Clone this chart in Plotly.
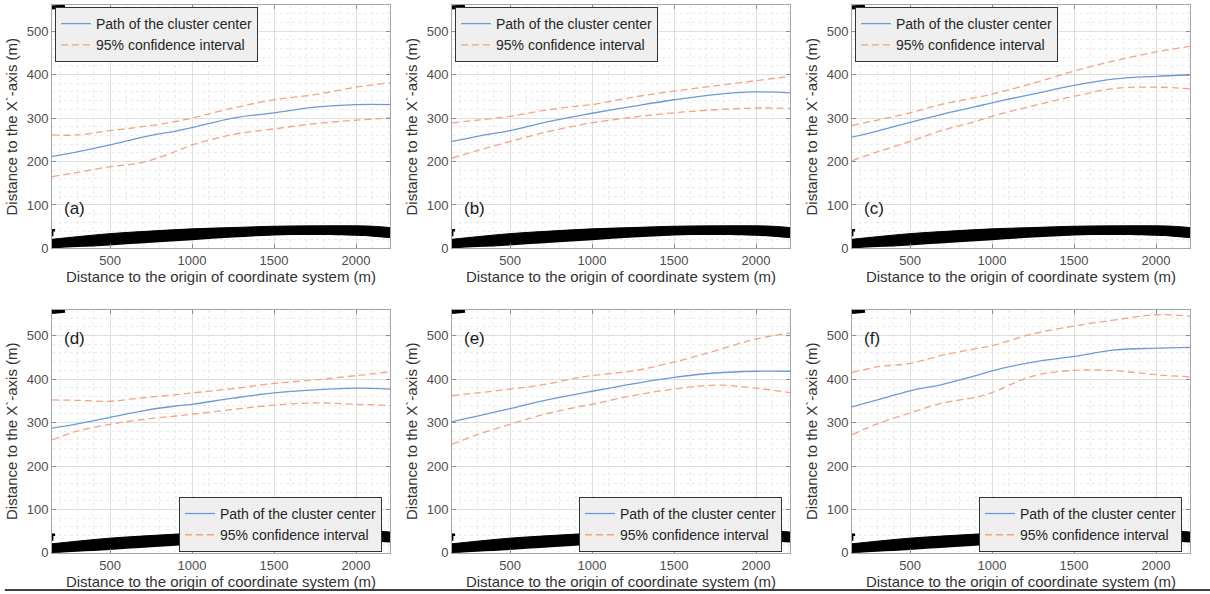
import plotly.graph_objects as go

# ---------------- data ----------------
X_PTS = [146, 300, 500, 700, 900, 1000, 1250, 1500, 1750, 2000, 2207]

A_CENTER = [211, 222, 238, 256, 270, 278, 300, 312, 325, 331, 331]
A_UPPER = [261, 261, 271, 280, 292, 300, 323, 342, 354, 371, 381]
A_LOWER = [165, 175, 188, 198, 223, 238, 262, 275, 287, 295, 300]

B_CENTER = [246, 258, 271, 289, 304, 311, 327, 342, 354, 360, 358]
B_UPPER = [289, 295, 304, 317, 327, 331, 348, 362, 374, 386, 396]
B_LOWER = [208, 225, 246, 266, 282, 289, 302, 312, 319, 323, 322]

C_CENTER = [256, 270, 290, 309, 326, 335, 355, 375, 390, 396, 399]
C_UPPER = [283, 295, 312, 332, 347, 355, 380, 408, 432, 452, 465]
C_LOWER = [202, 222, 246, 272, 292, 304, 328, 350, 368, 371, 367]

D_CENTER = [287, 297, 312, 327, 338, 342, 356, 368, 375, 379, 377]
D_UPPER = [352, 351, 349, 357, 364, 368, 378, 390, 398, 408, 417]
D_LOWER = [260, 280, 296, 307, 315, 319, 330, 340, 345, 342, 339]

E_CENTER = [302, 315, 332, 350, 365, 372, 389, 404, 414, 418, 418]
E_UPPER = [362, 368, 377, 387, 402, 408, 419, 439, 465, 492, 506]
E_LOWER = [250, 272, 296, 318, 335, 342, 362, 377, 386, 379, 369]

F_CENTER = [336, 352, 373, 388, 408, 419, 439, 452, 467, 471, 473]
F_UPPER = [415, 428, 436, 455, 470, 477, 504, 522, 536, 548, 545]
F_LOWER = [272, 297, 322, 345, 358, 369, 407, 420, 419, 410, 405]

# thick black boundary drawn in every panel
BAND_X = [146, 300, 500, 750, 1000, 1250, 1500, 1750, 2000, 2100, 2207]
BAND_LO = [0, 3, 7, 13, 19, 25, 30, 31, 29, 27, 24]
BAND_HI = [21, 27, 34, 40, 45, 48, 51, 52, 52, 51, 48]
TOPMARK_X = [146, 225]
TOPMARK_Y = [554, 557]
HOOK_X = [147, 147, 165]
HOOK_Y = [28, 42, 42]

PANEL_LABELS = ["(a)", "(b)", "(c)", "(d)", "(e)", "(f)"]
CENTERS = [A_CENTER, B_CENTER, C_CENTER, D_CENTER, E_CENTER, F_CENTER]
UPPERS = [A_UPPER, B_UPPER, C_UPPER, D_UPPER, E_UPPER, F_UPPER]
LOWERS = [A_LOWER, B_LOWER, C_LOWER, D_LOWER, E_LOWER, F_LOWER]

X_TICKS = [500, 1000, 1500, 2000]
Y_TICKS = [0, 100, 200, 300, 400, 500]
NAME_CENTER = "Path of the cluster center"
NAME_CI = "95% confidence interval"
X_TITLE = "Distance to the origin of coordinate system (m)"
Y_TITLE = "Distance to the X`-axis (m)"

# ---------------- layout geometry ----------------
W, H = 1210, 594          # reference pixel frame used for the paper fractions
FIG_H = 603               # rendered height (the capture area is slightly taller)
COL_PX = [(52, 390), (452, 790), (852, 1190)]
ROW_PX = [(5, 248), (309, 552)]

BLUE = "#6b9bd6"
ORANGE = "#f6a283"
FONT = "Liberation Sans, Arial, sans-serif"

fig = go.Figure()
layout = dict(
    width=W, height=FIG_H, margin=dict(l=0, r=0, t=0, b=0),
    paper_bgcolor="white", plot_bgcolor="white",
    font=dict(family=FONT, color="#333333"),
    annotations=[], shapes=[],
)

for i in range(6):
    r, c = divmod(i, 3)
    n = "" if i == 0 else str(i + 1)
    xa, ya = "x" + n, "y" + n
    leg = "legend" + n
    x0, x1 = COL_PX[c]
    y0, y1 = ROW_PX[r]

    # black band
    fig.add_trace(go.Scatter(x=BAND_X, y=BAND_LO, mode="lines", line=dict(color="black", width=0, shape="spline"),
                             showlegend=False, hoverinfo="skip", xaxis=xa, yaxis=ya))
    fig.add_trace(go.Scatter(x=BAND_X, y=BAND_HI, mode="lines", fill="tonexty", fillcolor="black",
                             line=dict(color="black", width=1, shape="spline"),
                             showlegend=False, hoverinfo="skip", xaxis=xa, yaxis=ya))
    fig.add_trace(go.Scatter(x=TOPMARK_X, y=TOPMARK_Y, mode="lines", line=dict(color="black", width=4),
                             showlegend=False, hoverinfo="skip", xaxis=xa, yaxis=ya))
    fig.add_trace(go.Scatter(x=HOOK_X, y=HOOK_Y, mode="lines", line=dict(color="black", width=2.5),
                             showlegend=False, hoverinfo="skip", xaxis=xa, yaxis=ya))

    # center path and confidence interval
    fig.add_trace(go.Scatter(x=X_PTS, y=CENTERS[i], mode="lines", name=NAME_CENTER,
                             line=dict(color=BLUE, width=1.3, shape="spline"),
                             legend=leg, xaxis=xa, yaxis=ya))
    fig.add_trace(go.Scatter(x=X_PTS, y=UPPERS[i], mode="lines", name=NAME_CI,
                             line=dict(color=ORANGE, width=1.3, dash="7px,4px", shape="spline"),
                             legend=leg, legendgroup="ci" + n, xaxis=xa, yaxis=ya))
    fig.add_trace(go.Scatter(x=X_PTS, y=LOWERS[i], mode="lines", name=NAME_CI, showlegend=False,
                             line=dict(color=ORANGE, width=1.3, dash="7px,4px", shape="spline"),
                             legend=leg, legendgroup="ci" + n, xaxis=xa, yaxis=ya))

    common = dict(
        showline=True, linecolor="#a6a6a6", linewidth=1, mirror="ticks",
        ticks="inside", ticklen=4, tickcolor="#8c8c8c",
        showgrid=True, gridcolor="#dedede", gridwidth=1, zeroline=False,
        tickfont=dict(family=FONT, size=13, color="#4d4d4d"),
    )
    layout["xaxis" + n] = dict(
        common, domain=[x0 / W, x1 / W], anchor=ya, range=[146, 2207],
        tickvals=X_TICKS,
        minor=dict(dtick=100, tick0=0, showgrid=True, gridcolor="#ebebeb", griddash="dot", ticks=""),
        title=dict(text=X_TITLE, font=dict(family=FONT, size=15, color="#333333"), standoff=3),
    )
    layout["yaxis" + n] = dict(
        common, domain=[1 - y1 / H, 1 - y0 / H], anchor=xa, range=[0, 560],
        tickvals=Y_TICKS,
        minor=dict(dtick=20, tick0=0, showgrid=True, gridcolor="#ebebeb", griddash="dot", ticks=""),
        title=dict(text=Y_TITLE, font=dict(family=FONT, size=15, color="#333333"), standoff=5),
    )

    if r == 0:
        legpos = dict(x=(x0 + 3) / W, y=1 - (y0 + 2) / H, xanchor="left", yanchor="top")
        lab_y = 92
    else:
        legpos = dict(x=(x1 - 8) / W, y=1 - (y1 - 1) / H, xanchor="right", yanchor="bottom")
        lab_y = 493
    layout[leg] = dict(
        legpos, xref="paper", yref="paper",
        bgcolor="#efefef", bordercolor="#333333", borderwidth=1,
        font=dict(family=FONT, size=14, color="#262626"),
        tracegroupgap=0, itemwidth=30,
    )
    layout["annotations"].append(dict(
        text=PANEL_LABELS[i], x=205, y=lab_y, xref=xa, yref=ya,
        xanchor="left", yanchor="middle", showarrow=False,
        font=dict(family=FONT, size=17, color="#1a1a1a"),
    ))

layout["shapes"].append(dict(type="line", xref="paper", yref="paper",
                             x0=0.004, x1=1, y0=1 - 589 / H, y1=1 - 589 / H,
                             line=dict(color="black", width=1.5)))

fig.update_layout(**layout)
fig.write_html(
    "out.html",
    config={"displayModeBar": False},
    post_script=(
        "for (const el of [document.documentElement, document.body]) {"
        "el.style.margin='0'; el.style.padding='0'; el.style.overflow='hidden'; }"
    ),
)
